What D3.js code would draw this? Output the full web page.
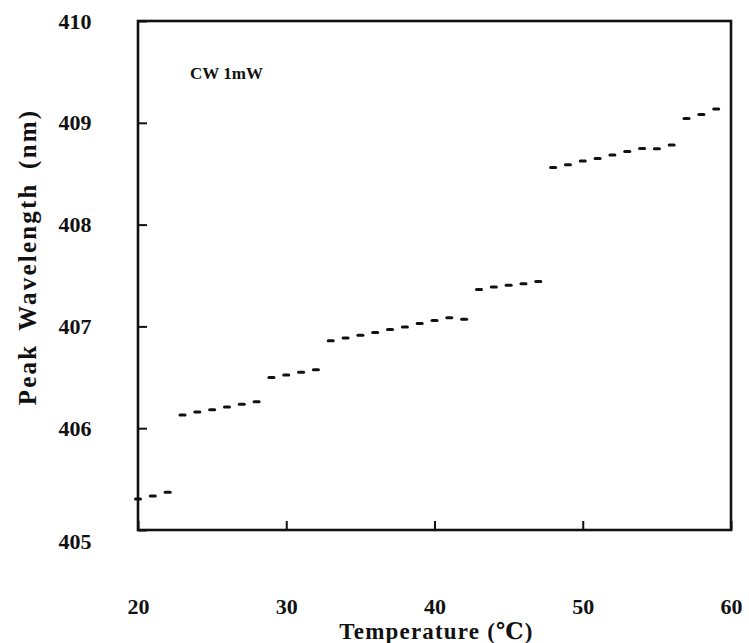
<!DOCTYPE html>
<html>
<head>
<meta charset="utf-8">
<script src="https://cdn.jsdelivr.net/npm/d3@7"></script>
<style>
  html, body { margin: 0; padding: 0; background: #fff; }
  svg { display: block; }
</style>
</head>
<body>
<svg id="chart" width="749" height="643"></svg>
<script>
// Temperature (°C) of each measured point
const temperature = [20, 21, 22,
  23, 24, 25, 26, 27, 28,
  29, 30, 31, 32,
  33, 34, 35, 36, 37, 38, 39, 40, 41, 42,
  43, 44, 45, 46, 47,
  48, 49, 50, 51, 52, 53, 54, 55, 56,
  57, 58, 59];
// Peak wavelength (nm) at each temperature
const peakWavelength = [405.305, 405.334, 405.370,
  406.130, 406.160, 406.182, 406.209, 406.235, 406.261,
  406.497, 406.523, 406.550, 406.575,
  406.860, 406.887, 406.914, 406.939, 406.969, 406.995, 407.028, 407.057, 407.084, 407.071,
  407.362, 407.388, 407.405, 407.420, 407.440,
  408.561, 408.587, 408.624, 408.649, 408.683, 408.718, 408.747, 408.745, 408.781,
  409.042, 409.082, 409.135];
const xTicks = [20, 30, 40, 50, 60];
const yTicks = [405, 406, 407, 408, 409, 410];
const xTitle = "Temperature (\u2103)";
const yTitle = "Peak Wavelength (nm)";
const annotation = "CW 1mW";

const FONT = "Liberation Serif, DejaVu Serif, serif";
const svg = d3.select("#chart");
const L = 138, T = 21, R = 731, B = 530;

const x = d3.scaleLinear().domain([20, 60]).range([L, R]);
const y = d3.scaleLinear().domain([405, 410]).range([B, T]);

// Axes with inward ticks
const xAxis = svg.append("g").attr("transform", `translate(0,${B})`)
  .call(d3.axisBottom(x).tickValues(xTicks).tickFormat(d3.format("d"))
    .tickSizeInner(-9).tickSizeOuter(0).tickPadding(77));
const yAxis = svg.append("g").attr("transform", `translate(${L},0)`)
  .call(d3.axisLeft(y).tickValues(yTicks).tickFormat(d3.format("d"))
    .tickSizeInner(-9).tickSizeOuter(0).tickPadding(45));

[xAxis, yAxis].forEach(a => {
  a.attr("font-family", FONT).attr("font-weight", "bold");
  a.select(".domain").remove();
  a.selectAll(".tick line").attr("stroke", "#111").attr("stroke-width", 2);
  a.selectAll(".tick text").attr("font-size", 22).attr("fill", "#111");
});
yAxis.selectAll(".tick text").attr("text-anchor", "middle").attr("x", -63);
yAxis.selectAll(".tick text").filter(d => d === 405).attr("dy", "0.85em");
xAxis.selectAll(".tick text").attr("dy", "0.3em");

// Frame
svg.append("rect")
  .attr("x", x(20)).attr("y", y(410))
  .attr("width", x(60) - x(20)).attr("height", y(405) - y(410))
  .attr("fill", "none").attr("stroke", "#111").attr("stroke-width", 2.6);

// Data dashes
const data = temperature.map((t, i) => ({ t, w: peakWavelength[i] }));
svg.append("g").selectAll("line").data(data).join("line")
  .attr("x1", d => x(d.t) - 2.5)
  .attr("x2", d => x(d.t) + 2.5)
  .attr("y1", d => y(d.w))
  .attr("y2", d => y(d.w))
  .attr("stroke", "#111").attr("stroke-width", 3).attr("stroke-linecap", "round");

// Annotation
svg.append("text").attr("x", 190).attr("y", 79)
  .attr("font-family", FONT).attr("font-weight", "bold").attr("fill", "#111")
  .attr("font-size", 17).text(annotation);

// Axis titles
svg.append("text").attr("x", (L + R) / 2 + 2).attr("y", 639)
  .attr("font-family", FONT).attr("font-weight", "bold").attr("fill", "#111")
  .attr("text-anchor", "middle").attr("font-size", 23)
  .style("letter-spacing", "1.2px").text(xTitle);
svg.append("text").attr("transform", `translate(36,257) rotate(-90)`)
  .attr("font-family", FONT).attr("font-weight", "bold").attr("fill", "#111")
  .attr("text-anchor", "middle").attr("font-size", 25)
  .style("word-spacing", "5px").style("letter-spacing", "2.2px").text(yTitle);
</script>
</body>
</html>
